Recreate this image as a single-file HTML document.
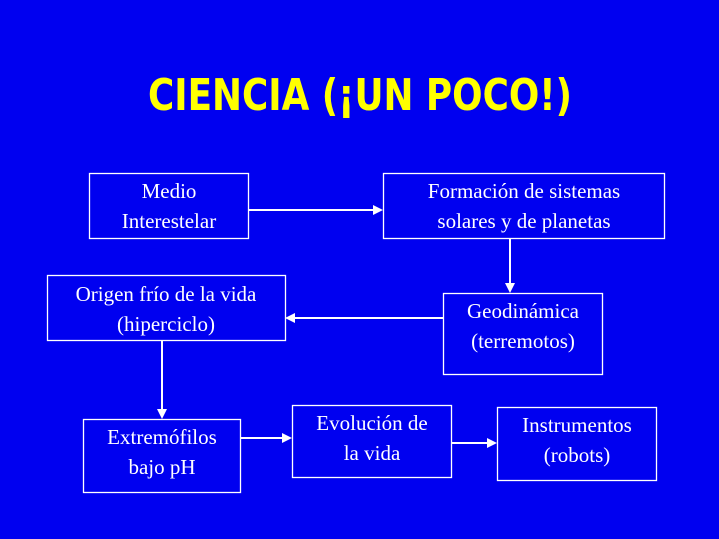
<!DOCTYPE html>
<html><head><meta charset="utf-8"><style>
html,body{margin:0;padding:0;background:#0000f0;}
svg{display:block}
text{font-family:"Liberation Serif",serif;font-size:21px;fill:#fff;text-anchor:middle}
</style></head><body>
<svg width="719" height="539" viewBox="0 0 719 539" xmlns="http://www.w3.org/2000/svg">
<rect width="719" height="539" fill="#0000f0"/>
<text x="360" y="110" style="font-family:'DejaVu Sans','Liberation Sans',sans-serif;font-weight:bold;font-size:44px;fill:#ffff00" textLength="424" lengthAdjust="spacingAndGlyphs">CIENCIA (¡UN POCO!)</text>
<g fill="none" stroke="#fff" stroke-width="1.3">
<rect x="89.5" y="173.5" width="159" height="65"/>
<rect x="383.5" y="173.5" width="281" height="65"/>
<rect x="47.5" y="275.5" width="238" height="65"/>
<rect x="443.5" y="293.5" width="159" height="81"/>
<rect x="83.5" y="419.5" width="157" height="73"/>
<rect x="292.5" y="405.5" width="159" height="72"/>
<rect x="497.5" y="407.5" width="159" height="73"/>
</g>
<g stroke="#fff" stroke-width="2">
<line x1="248" y1="210" x2="375" y2="210"/>
<line x1="510" y1="238" x2="510" y2="285"/>
<line x1="443" y1="318" x2="294" y2="318"/>
<line x1="162" y1="340" x2="162" y2="411"/>
<line x1="240" y1="438" x2="284" y2="438"/>
<line x1="451" y1="443" x2="489" y2="443"/>
</g>
<g fill="#fff">
<polygon points="383,210 373,205 373,215"/>
<polygon points="510,293 505,283 515,283"/>
<polygon points="285,318 295,313 295,323"/>
<polygon points="162,419 157,409 167,409"/>
<polygon points="292,438 282,433 282,443"/>
<polygon points="497,443 487,438 487,448"/>
</g>
<text x="169" y="198">Medio</text><text x="169" y="228">Interestelar</text>
<text x="524" y="198">Formación de sistemas</text><text x="524" y="228">solares y de planetas</text>
<text x="166" y="301">Origen frío de la vida</text><text x="166" y="331">(hiperciclo)</text>
<text x="523" y="318">Geodinámica</text><text x="523" y="348">(terremotos)</text>
<text x="162" y="444">Extremófilos</text><text x="162" y="474">bajo pH</text>
<text x="372" y="430">Evolución de</text><text x="372" y="460">la vida</text>
<text x="577" y="432">Instrumentos</text><text x="577" y="462">(robots)</text>
</svg>
</body></html>
